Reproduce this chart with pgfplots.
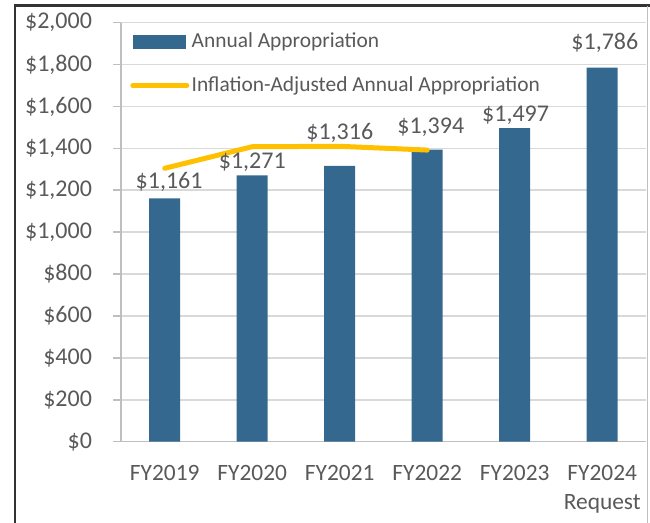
\documentclass[border=0pt]{standalone}
\usepackage{pgfplots}
\pgfplotsset{compat=1.18}
\usepackage{fontspec}
\setmainfont{Carlito}
\definecolor{barblue}{HTML}{34688F}
\definecolor{linegold}{HTML}{FFC000}
\definecolor{txtgray}{HTML}{595959}
\definecolor{gridgray}{HTML}{D9D9D9}
\definecolor{axgray}{HTML}{BFBFBF}
\begin{document}
\begin{tikzpicture}
\useasboundingbox (-60.5pt,-40.65pt) rectangle (264.5pt,220.85pt);
\begin{axis}[
  scale only axis,
  width=262.5pt, height=209.5pt,
  xmin=-0.5, xmax=5.5,
  ymin=0, ymax=2000,
  ytick={0,200,...,2000},
  xtick={0,1,2,3,4,5},
  xticklabels={FY2019,FY2020,FY2021,FY2022,FY2023,{FY2024\\Request}},
  xticklabel style={align=center, font=\fontsize{11.7}{14.5}\selectfont, text=txtgray, yshift=-4.5pt},
  /pgf/number format/assume math mode=true,
  /pgf/number format/1000 sep={,},
  yticklabel={\$\pgfmathprintnumber{\tick}},
  yticklabel style={font=\fontsize{12}{14}\selectfont, text=txtgray, xshift=-7pt},
  axis x line*=bottom, axis y line*=left,
  axis line style={axgray, line width=0.8pt},
  tick align=outside,
  major tick length=4pt,
  ytick style={axgray, line width=0.8pt},
  xtick style={draw=none},
  ymajorgrids,
  grid style={gridgray, line width=0.8pt},
  legend style={at={(0.017,0.982)}, anchor=north west, draw=none, fill=none,
    font=\fontsize{10.7}{12}\selectfont, text=txtgray, row sep=10.5pt, inner sep=0pt,
    nodes={inner sep=1.2pt}},
  legend cell align=left,
]
\addplot[ybar, bar width=15.5pt, fill=barblue, draw=none,
  legend image code/.code={\fill[barblue] (0pt,-3.5pt) rectangle (26.5pt,3.5pt);}]
  coordinates {(0,1161) (1,1271) (2,1316) (3,1394) (4,1497) (5,1786)};
\addlegendentry{Annual Appropriation}
\addplot[linegold, line width=2.5pt, line cap=round, mark=none,
  legend image code/.code={\draw[linegold, line width=2.5pt, line cap=round] (0pt,0pt) -- (27pt,0pt);}]
  coordinates {(0,1305) (1,1408) (2,1410) (3,1392)};
\addlegendentry{Inflation-Adjusted Annual Appropriation}
\addplot[forget plot, only marks, mark=none, point meta=explicit,
  nodes near coords={\$\pgfmathprintnumber{\pgfplotspointmeta}},
  every node near coord/.append style={anchor=center, text=txtgray, font=\fontsize{12}{14}\selectfont, inner sep=0pt}]
  table[x=x, y=y, meta=v] {
x y v
0.05 1241 1161
1 1336 1271
2 1473 1316
3.04 1503 1394
4.01 1559 1497
5.03 1902 1786
};
\end{axis}
\draw[black!80, line width=1.3pt] (-53pt,-45pt) -- (-53pt,218pt) -- (264.5pt,218pt);
\draw[axgray, line width=0.6pt] (263.3pt,218pt) -- (263.3pt,-45pt);
\end{tikzpicture}
\end{document}
